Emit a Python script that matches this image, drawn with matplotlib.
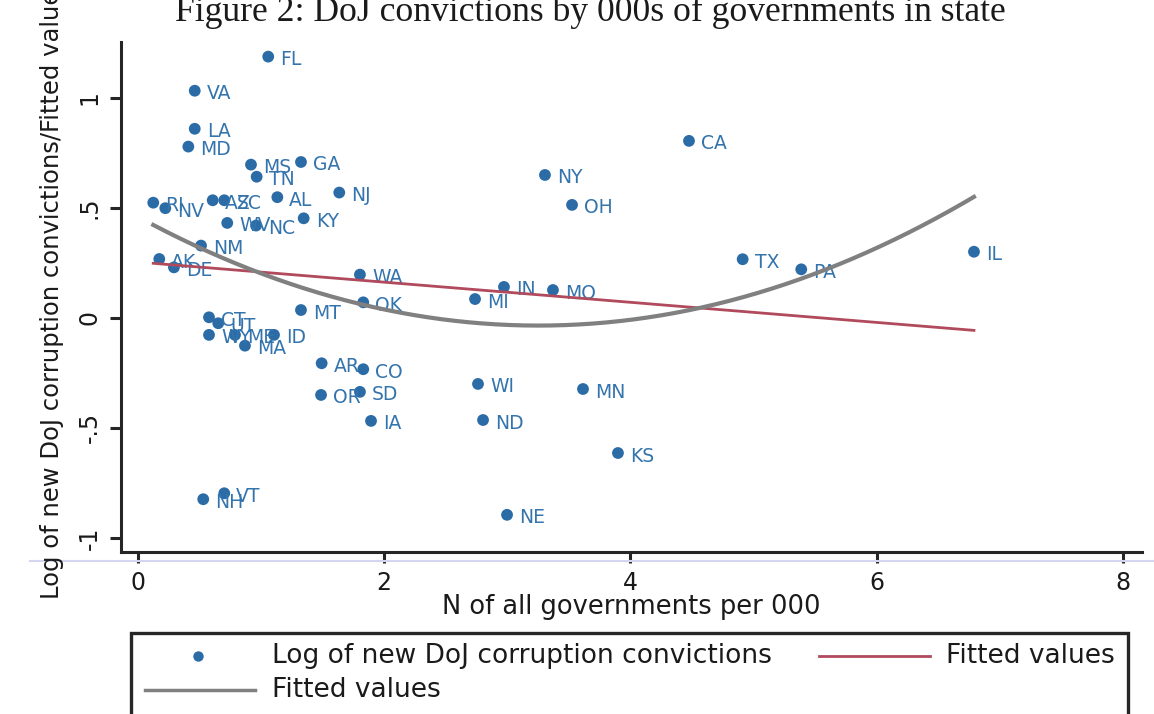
import numpy as np
import matplotlib
matplotlib.use("Agg")
import matplotlib.pyplot as plt
from matplotlib.lines import Line2D
from matplotlib.patches import Rectangle

# ---------------- data ----------------
states = ["FL", "VA", "LA", "MD", "MS", "GA", "TN", "AL", "NJ", "RI",
          "NV", "AZ", "SC", "KY", "WV", "NC", "NM", "AK", "DE", "WA",
          "OK", "MT", "CT", "UT", "WY", "ME", "MA", "ID", "AR", "CO",
          "SD", "OR", "IA", "NH", "VT", "NE", "ND", "WI", "MN", "KS",
          "IN", "MI", "MO", "NY", "OH", "CA", "TX", "PA", "IL"]
gov_per_000 = [1.058, 0.461, 0.461, 0.409, 0.918, 1.324, 0.964, 1.132, 1.635, 0.124,
               0.222, 0.607, 0.701, 1.346, 0.725, 0.959, 0.512, 0.173, 0.292, 1.803,
               1.830, 1.324, 0.577, 0.652, 0.577, 0.788, 0.869, 1.105, 1.492, 1.830,
               1.803, 1.487, 1.893, 0.530, 0.701, 2.998, 2.803, 2.762, 3.615, 3.899,
               2.973, 2.738, 3.371, 3.306, 3.526, 4.476, 4.912, 5.388, 6.791]
log_convictions = [1.188, 1.033, 0.860, 0.779, 0.697, 0.709, 0.642, 0.549, 0.570, 0.524,
                   0.499, 0.535, 0.535, 0.453, 0.432, 0.420, 0.329, 0.268, 0.230, 0.197,
                   0.071, 0.036, 0.003, -0.024, -0.077, -0.077, -0.126, -0.077, -0.206, -0.233,
                   -0.336, -0.350, -0.468, -0.824, -0.797, -0.895, -0.464, -0.300, -0.323, -0.614,
                   0.141, 0.086, 0.127, 0.650, 0.514, 0.805, 0.267, 0.221, 0.301]

title = "Figure 2: DoJ convictions by 000s of governments in state"
x_label = "N of all governments per 000"
y_label = "Log of new DoJ corruption convictions/Fitted values"
x_ticks = [0, 2, 4, 6, 8]
x_tick_labels = ["0", "2", "4", "6", "8"]
y_ticks = [-1, -0.5, 0, 0.5, 1]
y_tick_labels = ["-1", "-.5", "0", ".5", "1"]
legend_labels = ["Log of new DoJ corruption convictions", "Fitted values", "Fitted values"]

# ---------------- style ----------------
BLUE = "#2b6ca7"
LABEL_BLUE = "#3474ad"
RED = "#b04a5c"
GRAY = "#808080"
AXC = "#262626"
TXT = "#1a1a1a"
FONT = "DejaVu Sans"

W, H = 1154, 714
fig = plt.figure(figsize=(W / 100, H / 100), dpi=100)
fig.patch.set_facecolor("white")

def fx(px):
    return px / W

def fy(py):
    return 1 - py / H

ax = fig.add_axes([fx(121), fy(552), fx(1142) - fx(121), fy(42) - fy(552)])
ax.set_xlim(-0.138, 8.156)
ax.set_ylim(-1.064, 1.2545)

x = np.array(gov_per_000)
y = np.array(log_convictions)

# scatter + labels
ax.scatter(x, y, s=72, color=BLUE, edgecolors="none", zorder=3)
for s, xi, yi in zip(states, x, y):
    ax.annotate(s, (xi, yi), xytext=(12, -3), textcoords="offset pixels",
                ha="left", va="center", fontsize=13.5, color=LABEL_BLUE,
                family=FONT, zorder=3)

# fitted values (linear and quadratic fits of the data)
xs = np.linspace(x.min(), x.max(), 300)
lin = np.polyval(np.polyfit(x, y, 1), xs)
quad = np.polyval(np.polyfit(x, y, 2), xs)
ax.plot(xs, lin, color=RED, lw=2.0, zorder=4)
ax.plot(xs, quad, color=GRAY, lw=3.0, zorder=5)

# axes styling (Stata-like: only left and bottom)
for side in ["top", "right"]:
    ax.spines[side].set_visible(False)
for side in ["left", "bottom"]:
    ax.spines[side].set_color(AXC)
    ax.spines[side].set_linewidth(2.2)
ax.set_xticks(x_ticks)
ax.set_xticklabels(x_tick_labels)
ax.set_yticks(y_ticks)
ax.set_yticklabels(y_tick_labels, rotation=90, va="center")
ax.tick_params(axis="both", direction="out", length=8, width=2.2, color=AXC,
               labelsize=17, labelcolor=TXT)
ax.tick_params(axis="x", pad=6)
ax.tick_params(axis="y", pad=6)
for lab in ax.get_xticklabels() + ax.get_yticklabels():
    lab.set_family(FONT)

# x label
fig.text(fx(631), fy(607), x_label, ha="center", va="center", fontsize=18.5,
         family=FONT, color=TXT)

# y label (runs off the top of the figure like the scan)
fig.text(fx(52), fy(599), y_label, rotation=90, ha="center", va="bottom",
         fontsize=17.5, family=FONT, color=TXT)

# title (top clipped, as in the reference)
fig.text(fx(590), fy(21), title, ha="center", va="baseline", fontsize=25.7,
         family="Liberation Serif", color=TXT)

# faint scan line below the x axis
fig.add_artist(Line2D([fx(30), fx(1154)], [fy(561), fy(561)], color="#d3d6ee",
                      lw=1.5, transform=fig.transFigure))

# legend box (manual, Stata layout)
fig.add_artist(Rectangle((fx(131), fy(725)), fx(1128) - fx(131), fy(633) - fy(725),
                         transform=fig.transFigure, facecolor="white",
                         edgecolor=AXC, lw=2.4, clip_on=False))
row1, row2 = fy(656), fy(690)
LEG_FS = 19
fig.add_artist(Line2D([fx(198)], [row1], marker="o", markersize=7.5, color=BLUE,
                      markeredgewidth=0, linestyle="none", transform=fig.transFigure))
fig.text(fx(272), row1, legend_labels[0], ha="left", va="center", fontsize=LEG_FS,
         family=FONT, color=TXT)
fig.add_artist(Line2D([fx(819), fx(930)], [row1, row1], color=RED, lw=2.0,
                      transform=fig.transFigure))
fig.text(fx(946), row1, legend_labels[1], ha="left", va="center", fontsize=LEG_FS,
         family=FONT, color=TXT)
fig.add_artist(Line2D([fx(145), fx(255)], [row2, row2], color=GRAY, lw=2.5,
                      transform=fig.transFigure))
fig.text(fx(272), row2, legend_labels[2], ha="left", va="center", fontsize=LEG_FS,
         family=FONT, color=TXT)

fig.savefig("out.png", dpi=100, facecolor="white")
